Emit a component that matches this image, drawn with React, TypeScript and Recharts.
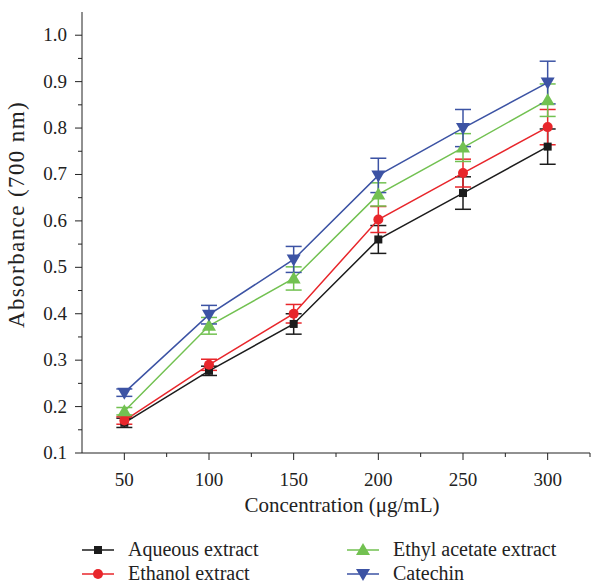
import React from "react";
import { LineChart, Line, XAxis, YAxis, ErrorBar, Legend } from "recharts";

const concentrations = [50, 100, 150, 200, 250, 300];
const aqueous = [0.165, 0.277, 0.378, 0.56, 0.66, 0.76];
const aqueousErr = [0.01, 0.01, 0.022, 0.03, 0.035, 0.038];
const ethanol = [0.17, 0.29, 0.4, 0.603, 0.703, 0.802];
const ethanolErr = [0.008, 0.012, 0.02, 0.028, 0.03, 0.038];
const ethyl = [0.19, 0.374, 0.476, 0.657, 0.758, 0.86];
const ethylErr = [0.008, 0.018, 0.025, 0.025, 0.03, 0.035];
const catechin = [0.23, 0.398, 0.517, 0.698, 0.8, 0.898];
const catechinErr = [0.008, 0.02, 0.028, 0.037, 0.04, 0.046];

const xTicks = [50, 75, 100, 125, 150, 175, 200, 225, 250, 275, 300, 325];
const xMajor = [50, 100, 150, 200, 250, 300];
const yTicks = [0.1, 0.15, 0.2, 0.25, 0.3, 0.35, 0.4, 0.45, 0.5, 0.55, 0.6, 0.65, 0.7, 0.75, 0.8, 0.85, 0.9, 0.95, 1.0];
const yMajor = [0.1, 0.2, 0.3, 0.4, 0.5, 0.6, 0.7, 0.8, 0.9, 1.0];

const seriesNames = ["Aqueous extract", "Ethanol extract", "Ethyl acetate extract", "Catechin"];
const seriesColors = ["#1c1c1c", "#e8262b", "#72c151", "#3c53a4"];
const seriesShapes = ["square", "circle", "up", "down"];

const xLabel = "Concentration (\u03bcg/mL)";
const yLabel = "Absorbance (700 nm)";

const data = concentrations.map((c, i) => ({
  conc: c,
  aq: aqueous[i],
  aqErr: aqueousErr[i],
  et: ethanol[i],
  etErr: ethanolErr[i],
  ea: ethyl[i],
  eaErr: ethylErr[i],
  ca: catechin[i],
  caErr: catechinErr[i],
}));

const FONT = "'Liberation Serif', 'DejaVu Serif', serif";
const AXIS = "#222";

function Marker({ shape, cx, cy, color }: { shape: string; cx: number; cy: number; color: string }) {
  if (shape === "square") return <rect x={cx - 4} y={cy - 4} width={8} height={8} fill={color} />;
  if (shape === "circle") return <circle cx={cx} cy={cy} r={5} fill={color} />;
  if (shape === "up")
    return <polygon points={`${cx - 7},${cy + 5} ${cx + 7},${cy + 5} ${cx},${cy - 7}`} fill={color} />;
  return <polygon points={`${cx - 7},${cy - 5} ${cx + 7},${cy - 5} ${cx},${cy + 7}`} fill={color} />;
}

const makeDot = (idx: number) => (props: any) => {
  const { cx, cy, index } = props;
  if (cx == null || cy == null) return <g key={index} />;
  return <Marker key={index} shape={seriesShapes[idx]} cx={cx} cy={cy} color={seriesColors[idx]} />;
};

const XTick = (props: any) => {
  const { x, y, payload } = props;
  const v = payload.value;
  const major = xMajor.includes(v);
  return (
    <g>
      <line x1={x} x2={x} y1={y} y2={y + (major ? 7 : 4)} stroke={AXIS} strokeWidth={1} />
      {major && (
        <text x={x} y={y + 33} textAnchor="middle" fontFamily={FONT} fontSize={19} fill="#222">
          {v}
        </text>
      )}
    </g>
  );
};

const YTick = (props: any) => {
  const { x, y, payload } = props;
  const v = payload.value;
  const major = yMajor.some((m) => Math.abs(m - v) < 1e-9);
  return (
    <g>
      <line x1={x} x2={x - (major ? 7 : 4)} y1={y} y2={y} stroke={AXIS} strokeWidth={1} />
      {major && (
        <text x={x - 15} y={y + 6} textAnchor="end" fontFamily={FONT} fontSize={19} fill="#222">
          {v.toFixed(1)}
        </text>
      )}
    </g>
  );
};

const YLabel = (props: any) => {
  const vb = props.viewBox || {};
  const cy = (vb.y ?? 12) + (vb.height ?? 441) / 2 - 18;
  return (
    <text
      transform={`translate(24, ${cy}) rotate(-90)`}
      textAnchor="middle"
      fontFamily={FONT}
      fontSize={23}
      letterSpacing={1.4}
      fill="#222"
    >
      {yLabel}
    </text>
  );
};

const LegendContent = () => {
  const order = [0, 2, 1, 3];
  return (
    <div
      style={{
        display: "grid",
        gridTemplateColumns: "265px 240px",
        rowGap: 1,
        fontFamily: FONT,
        fontSize: 20,
        color: "#222",
      }}
    >
      {order.map((i) => (
        <div key={i} style={{ display: "flex", alignItems: "center", height: 23 }}>
          <svg width={46} height={20} style={{ overflow: "visible" }}>
            <line x1={0} x2={32} y1={10} y2={10} stroke={seriesColors[i]} strokeWidth={1.5} />
            <Marker shape={seriesShapes[i]} cx={16} cy={10} color={seriesColors[i]} />
          </svg>
          <span>{seriesNames[i]}</span>
        </div>
      ))}
    </div>
  );
};

const keys = ["aq", "et", "ea", "ca"];

export default function App() {
  return (
    <div style={{ position: "absolute", left: 0, top: 0 }}>
      <LineChart width={599} height={585} data={data} margin={{ top: 12, right: 9, bottom: 0, left: 0 }}>
        <XAxis
          dataKey="conc"
          type="number"
          domain={[25, 325]}
          ticks={xTicks}
          interval={0}
          tick={<XTick />}
          tickLine={false}
          tickSize={0}
          tickMargin={0}
          height={132}
          axisLine={{ stroke: AXIS, strokeWidth: 1 }}
          label={{
            value: xLabel,
            position: "insideTop",
            offset: 44,
            dx: 6,
            fontFamily: FONT,
            fontSize: 21,
            fill: "#222",
          }}
        />
        <YAxis
          type="number"
          domain={[0.1, 1.05]}
          ticks={yTicks}
          interval={0}
          tick={<YTick />}
          tickLine={false}
          tickSize={0}
          tickMargin={0}
          width={82}
          axisLine={{ stroke: AXIS, strokeWidth: 1 }}
          label={{ content: <YLabel /> }}
        />
        <Legend
          verticalAlign="middle"
          align="center"
          layout="horizontal"
          content={<LegendContent />}
          wrapperStyle={{ position: "absolute", top: 538, left: 82, width: 510, height: 47 }}
        />
        {keys.map((k, idx) => (
          <Line
            key={k}
            dataKey={k}
            name={seriesNames[idx]}
            stroke={seriesColors[idx]}
            strokeWidth={1.5}
            dot={makeDot(idx)}
            activeDot={false}
            isAnimationActive={false}
          >
            <ErrorBar dataKey={`${k}Err`} direction="y" width={8} stroke={seriesColors[idx]} strokeWidth={1.5} />
          </Line>
        ))}
      </LineChart>
    </div>
  );
}
